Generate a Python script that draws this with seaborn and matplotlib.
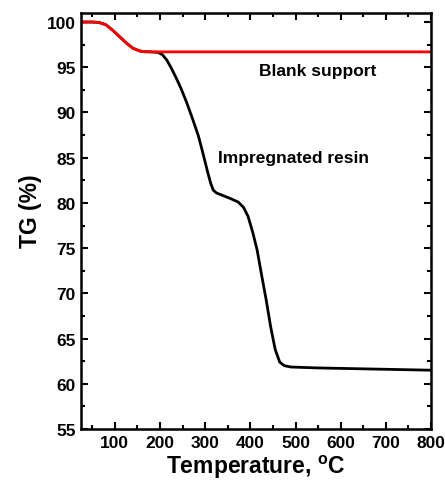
import matplotlib
matplotlib.use("Agg")
import matplotlib.pyplot as plt
from matplotlib.ticker import MultipleLocator
import seaborn as sns
import pandas as pd

# Blank support (red)
blank_T = [25, 50, 65, 80, 95, 110, 125, 140, 155, 165, 180, 300, 500, 800]
blank_TG = [100, 100, 99.95, 99.7, 99.1, 98.4, 97.7, 97.1, 96.8, 96.72, 96.7, 96.7, 96.7, 96.7]

# Impregnated resin (black)
resin_T = [25, 50, 65, 80, 95, 110, 125, 140, 155, 165, 180, 195, 205, 215, 225, 235, 247, 259, 272,
           285, 295, 305, 312, 318, 325, 340, 355, 373, 385, 395, 405, 415, 425, 435, 445, 455,
           465, 475, 490, 520, 550, 600, 700, 800]
resin_TG = [100, 100, 99.95, 99.7, 99.1, 98.4, 97.7, 97.1, 96.8, 96.72, 96.7, 96.65, 96.4, 95.8, 94.9,
            93.9, 92.6, 91.1, 89.3, 87.4, 85.5, 83.5, 82.2, 81.4, 81.1, 80.8, 80.5, 80.1, 79.5,
            78.5, 76.8, 74.8, 72.0, 69.3, 66.3, 63.8, 62.4, 62.0, 61.85, 61.8, 61.75, 61.7, 61.6, 61.5]

x_ticks = [100, 200, 300, 400, 500, 600, 700, 800]
y_ticks = [55, 60, 65, 70, 75, 80, 85, 90, 95, 100]

sns.set_style("ticks")
plt.rcParams['font.family'] = ['Liberation Sans', 'DejaVu Sans']
plt.rcParams['font.weight'] = 'bold'
for k in ['text.color', 'axes.labelcolor', 'xtick.color', 'ytick.color', 'axes.edgecolor']:
    plt.rcParams[k] = 'black'

df_b = pd.DataFrame({"T": blank_T, "TG": blank_TG})
df_r = pd.DataFrame({"T": resin_T, "TG": resin_TG})

fig = plt.figure(figsize=(4.45, 4.89), dpi=100)
ax = fig.add_axes([0.182, 0.1207, 0.7865, 0.8507])

sns.lineplot(data=df_r, x="T", y="TG", ax=ax, color="black", linewidth=2, sort=False, estimator=None)
sns.lineplot(data=df_b, x="T", y="TG", ax=ax, color="#ff0000", linewidth=2, sort=False, estimator=None)

ax.set_xlim(25, 800)
ax.set_ylim(55, 101)
ax.set_xticks(x_ticks)
ax.set_yticks(y_ticks)
ax.xaxis.set_minor_locator(MultipleLocator(50))
ax.yaxis.set_minor_locator(MultipleLocator(2.5))
ax.tick_params(which='both', direction='in', top=True, right=True, width=1.5, labelsize=12.5)
ax.tick_params(which='major', length=5, pad=4)
ax.tick_params(which='minor', length=3)
for lab in ax.get_xticklabels() + ax.get_yticklabels():
    lab.set_fontweight('bold')
for s in ax.spines.values():
    s.set_linewidth(1.8)
    s.set_visible(True)
    s.set_color('black')

ax.set_xlabel(r"Temperature, $^\mathregular{o}$C", fontsize=16.5, fontweight='bold', labelpad=2)
ax.set_ylabel("TG (%)", fontsize=16.5, fontweight='bold')
ax.yaxis.set_label_coords(-0.111, 0.525)

ax.text(550, 94.6, "Blank support", fontsize=12.5, fontweight='bold', ha='center', va='center')
ax.text(495, 85.0, "Impregnated resin", fontsize=12.5, fontweight='bold', ha='center', va='center')

fig.savefig("out.png", dpi=100)
